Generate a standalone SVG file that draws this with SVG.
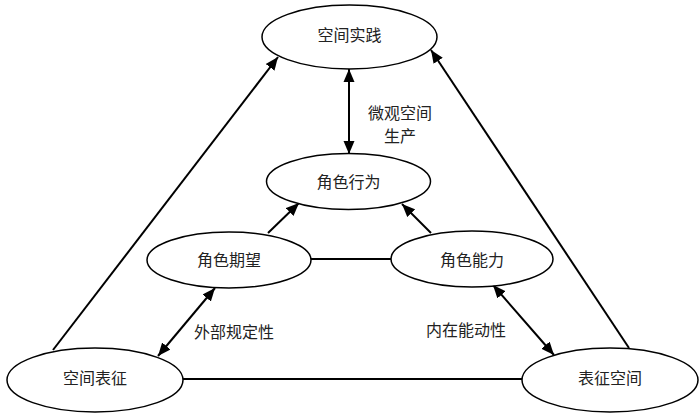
<svg xmlns="http://www.w3.org/2000/svg" width="700" height="413" viewBox="0 0 700 413">
  <defs>
    <marker id="arr" markerUnits="userSpaceOnUse" markerWidth="14" markerHeight="12" refX="13" refY="5.5" orient="auto-start-reverse" viewBox="0 0 14 11">
      <path d="M0,0 L13,5.5 L0,11 z" fill="#000"/>
    </marker>
    <style>
      .node ellipse { fill: #fff; stroke: #000; stroke-width: 1.5; }
      .node text, .lbl { font-family: "Noto Sans CJK SC", "Liberation Sans", sans-serif; font-size: 16px; fill: #222; text-anchor: middle; dominant-baseline: central; }
      .c line { stroke: #000; stroke-width: 2; fill: none; }
      .one { marker-end: url(#arr); }
      .two { marker-start: url(#arr); marker-end: url(#arr); }
    </style>
  </defs>
  <rect width="700" height="413" fill="#fff"/>
  <g id="connectors" class="c">
    <line class="one" x1="53" y1="350" x2="278" y2="57"/>
    <line class="one" x1="629" y1="348" x2="431" y2="50"/>
    <line x1="183" y1="379" x2="522" y2="379"/>
    <line x1="311" y1="259" x2="391" y2="259"/>
    <line class="one" x1="268" y1="233" x2="299" y2="203"/>
    <line class="one" x1="431" y1="233" x2="402" y2="204"/>
    <line class="two" x1="349" y1="69" x2="349" y2="154"/>
    <line class="two" x1="215" y1="288" x2="158" y2="356"/>
    <line class="two" x1="493" y1="285" x2="554" y2="355"/>
  </g>
  <g id="n-kongjianshijian" class="node">
    <ellipse cx="349.5" cy="37" rx="87.5" ry="32"/>
    <text x="349.5" y="34">空间实践</text>
  </g>
  <g id="n-jiaosexingwei" class="node">
    <ellipse cx="348.5" cy="181.5" rx="82" ry="28"/>
    <text x="348.5" y="181">角色行为</text>
  </g>
  <g id="n-jiaoseqiwang" class="node">
    <ellipse cx="229" cy="260" rx="82" ry="28"/>
    <text x="229" y="259">角色期望</text>
  </g>
  <g id="n-jiaosenengli" class="node">
    <ellipse cx="472" cy="259" rx="81" ry="28"/>
    <text x="472" y="259">角色能力</text>
  </g>
  <g id="n-kongjianbiaozheng" class="node">
    <ellipse cx="95" cy="380" rx="88" ry="32"/>
    <text x="95" y="377">空间表征</text>
  </g>
  <g id="n-biaozhengkongjian" class="node">
    <ellipse cx="610" cy="380" rx="88" ry="32"/>
    <text x="610" y="377">表征空间</text>
  </g>
  <g id="labels">
    <text class="lbl" x="400" y="112">微观空间</text>
    <text class="lbl" x="400" y="135">生产</text>
    <text class="lbl" x="234" y="331">外部规定性</text>
    <text class="lbl" x="466" y="329">内在能动性</text>
  </g>
</svg>
